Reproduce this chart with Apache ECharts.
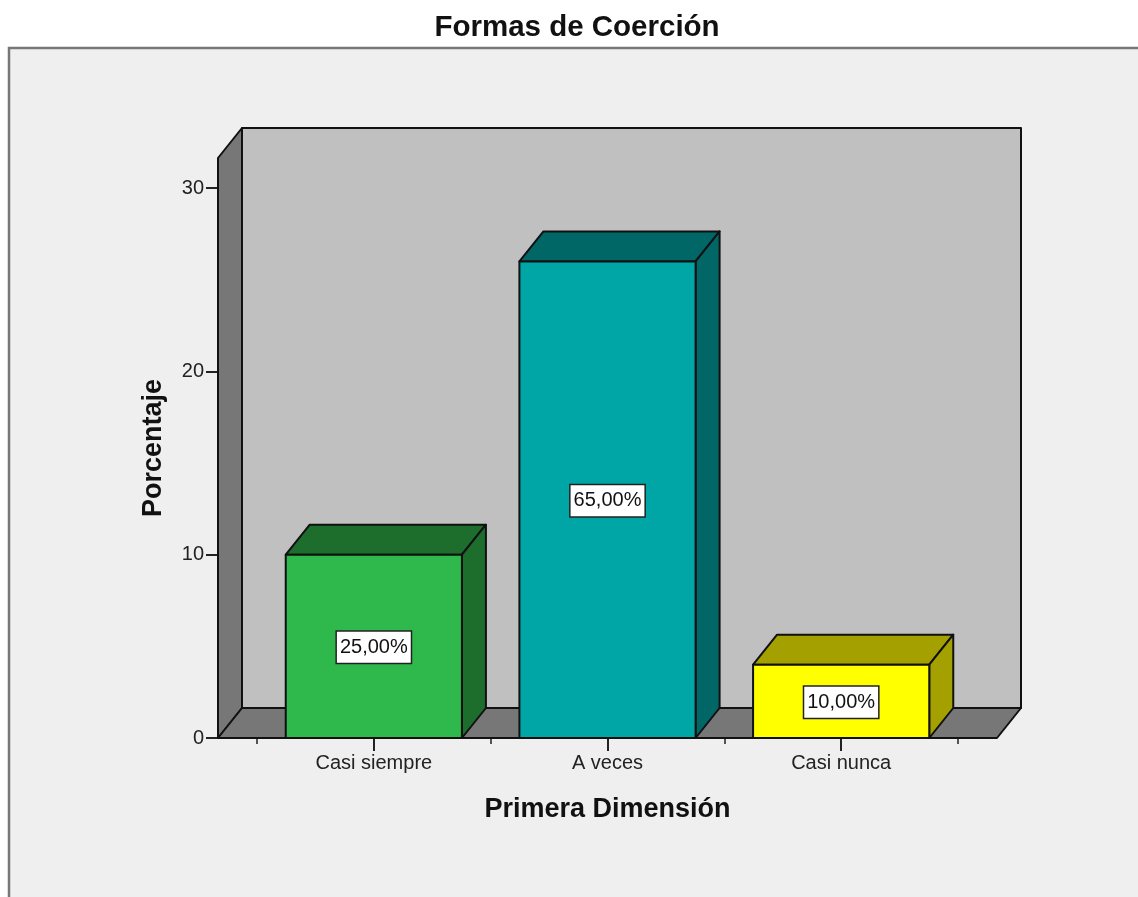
<!DOCTYPE html>
<html>
<head>
<meta charset="utf-8">
<title>Formas de Coerción</title>
<style>
html, body { margin: 0; padding: 0; background: #fff; }
#chart { width: 1138px; height: 897px; }
</style>
<script src="https://cdn.jsdelivr.net/npm/echarts@6/dist/echarts.min.js"></script>
</head>
<body>
<div id="chart"></div>
<script>
// datos
var categories = ['Casi siempre', 'A veces', 'Casi nunca'];
var counts = [10, 26, 4];
var percents = ['25,00%', '65,00%', '10,00%'];
var yTicks = [0, 10, 20, 30];
var yMax = 31.64;

var faceColors = ['#2fb84b', '#00a6a6', '#ffff00'];
var shadeColors = ['#1d6e2d', '#006666', '#a3a000'];

var FONT = '"Liberation Sans", Arial, sans-serif';
var INK = '#111';
var DX = 24, DY = -30;      // profundidad 3D
var WALL_PAD = 39;          // el suelo sobresale del eje de categorias
var BAR_RATIO = 0.754;

function poly(points, fill, z2) {
    return {
        type: 'polygon',
        z2: z2 || 0,
        shape: { points: points },
        style: { fill: fill, stroke: INK, lineWidth: 2, lineJoin: 'round' }
    };
}

function renderFrame(params) {
    var c = params.coordSys;
    var l = c.x - WALL_PAD, r = c.x + c.width + WALL_PAD;
    var t = c.y, b = c.y + c.height;
    return {
        type: 'group',
        children: [
            poly([[l + DX, t + DY], [r + DX, t + DY], [r + DX, b + DY], [l + DX, b + DY]], '#c0c0c0'),
            poly([[l, t], [l + DX, t + DY], [l + DX, b + DY], [l, b]], '#777777'),
            poly([[l, b], [l + DX, b + DY], [r + DX, b + DY], [r, b]], '#777777')
        ]
    };
}

function renderBar(params, api) {
    var i = api.value(0);
    var top = api.coord([i, api.value(1)]);
    var base = api.coord([i, 0]);
    var w = api.size([1, 0])[0] * BAR_RATIO;
    var l = top[0] - w / 2, r = top[0] + w / 2;
    var t = top[1], b = base[1];
    return {
        type: 'group',
        children: [
            poly([[l, t], [l + DX, t + DY], [r + DX, t + DY], [r, t]], shadeColors[i]),
            poly([[r, t], [r + DX, t + DY], [r + DX, b + DY], [r, b]], shadeColors[i]),
            poly([[l, t], [r, t], [r, b], [l, b]], faceColors[i]),
            {
                type: 'text',
                z2: 5,
                style: {
                    x: top[0],
                    y: (t + b) / 2 + 1,
                    text: percents[i],
                    align: 'center',
                    verticalAlign: 'middle',
                    fill: '#111',
                    font: '20px ' + FONT,
                    backgroundColor: '#fff',
                    borderColor: '#222',
                    borderWidth: 1.5,
                    padding: [6, 3, 5, 3]
                }
            }
        ]
    };
}

var myChart = echarts.init(document.getElementById('chart'));
var option = {
    animation: false,
    backgroundColor: '#fff',
    title: {
        text: 'Formas de Coerción',
        left: 572,
        top: 8,
        textAlign: 'center',
        textStyle: { fontFamily: FONT, fontSize: 29.5, fontWeight: 'bold', color: '#111' }
    },
    graphic: [{
        type: 'rect',
        z: -10,
        shape: { x: 9, y: 48, width: 1200, height: 900 },
        style: { fill: '#efefef', stroke: '#777', lineWidth: 2.5 }
    }],
    grid: { left: 257, top: 158, width: 701, height: 580 },
    xAxis: [{
        type: 'category',
        data: categories,
        position: 'bottom',
        name: 'Primera Dimensión',
        nameLocation: 'middle',
        nameGap: 58,
        nameTextStyle: { fontFamily: FONT, fontSize: 27, fontWeight: 'bold', color: '#111' },
        axisLine: { show: false },
        axisTick: { show: true, alignWithLabel: false, length: 6, lineStyle: { color: '#222', width: 1.5 } },
        axisLabel: { interval: 0, margin: 15, fontFamily: FONT, fontSize: 20, color: '#222' }
    }, {
        type: 'category',
        data: categories,
        position: 'bottom',
        axisLine: { show: false },
        axisTick: { show: true, alignWithLabel: true, length: 13, lineStyle: { color: '#222', width: 2 } },
        axisLabel: { show: false }
    }],
    yAxis: {
        type: 'value',
        min: 0,
        max: yMax,
        offset: WALL_PAD,
        name: 'Porcentaje',
        nameLocation: 'middle',
        nameGap: 51,
        nameTextStyle: { fontFamily: FONT, fontSize: 27, fontWeight: 'bold', color: '#111' },
        splitLine: { show: false },
        axisLine: { show: false },
        axisTick: { show: true, length: 12, customValues: yTicks, lineStyle: { color: '#222', width: 2 } },
        axisLabel: { margin: 14, customValues: yTicks, fontFamily: FONT, fontSize: 20, color: '#222' }
    },
    series: [{
        type: 'custom',
        z: 1,
        silent: true,
        renderItem: renderFrame,
        data: [[0, 0]]
    }, {
        type: 'custom',
        z: 2,
        renderItem: renderBar,
        encode: { x: 0, y: 1 },
        data: counts.map(function (v, i) { return [i, v]; })
    }]
};
myChart.setOption(option);
</script>
</body>
</html>
